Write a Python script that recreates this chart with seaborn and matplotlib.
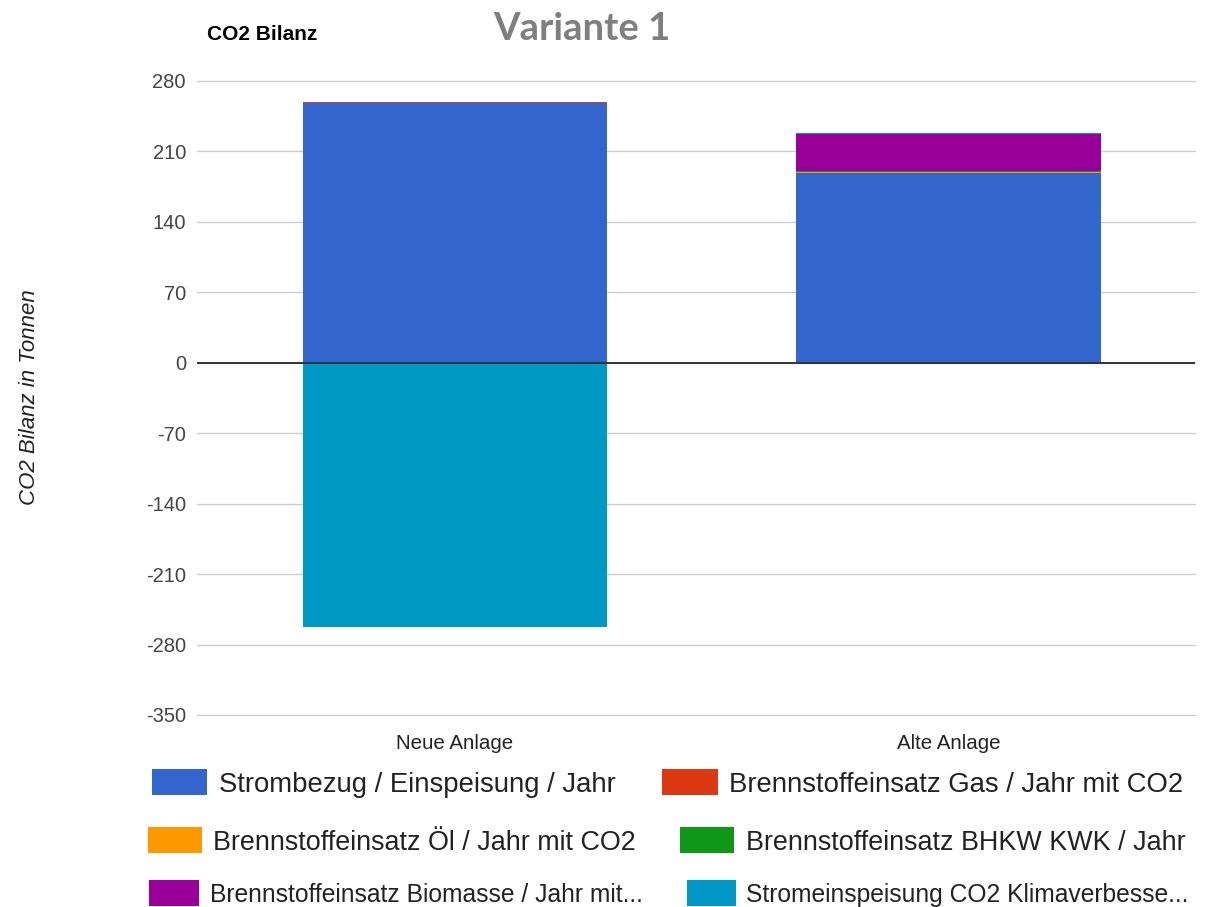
import numpy as np
import pandas as pd
import matplotlib
matplotlib.use("Agg")
import matplotlib.pyplot as plt
from matplotlib.patches import Rectangle
import seaborn as sns

# ---------------- data ----------------
categories = ["Neue Anlage", "Alte Anlage"]
series_names = [
    "Strombezug / Einspeisung / Jahr",
    "Brennstoffeinsatz Gas / Jahr mit CO2",
    "Brennstoffeinsatz Öl / Jahr mit CO2",
    "Brennstoffeinsatz BHKW KWK / Jahr",
    "Brennstoffeinsatz Biomasse / Jahr mit...",
    "Stromeinspeisung CO2 Klimaverbesse...",
]
strombezug = [258.5, 189.0]
gas = [1.0, 0.0]
oel = [0.0, 0.2]
bhkw = [0.0, 1.0]
biomasse = [0.0, 37.5]
stromeinspeisung = [-263.0, 0.6]
series_colors = ["#3366cc", "#dc3912", "#ff9900", "#109618", "#990099", "#0099c6"]
yticks = [-350, -280, -210, -140, -70, 0, 70, 140, 210, 280]

# ---------------- style ----------------
sns.set_theme(style="white")
plt.rcParams["font.family"] = ["Liberation Sans", "DejaVu Sans"]

W, H = 1205, 907
fig = plt.figure(figsize=(W / 100, H / 100), dpi=100)
ax = fig.add_axes([197 / W, 1 - 715 / H, (1195 - 197) / W, (715 - 81) / H])

layers = [strombezug, gas, oel, bhkw, biomasse, stromeinspeisung]
vals = np.array(layers, dtype=float)  # shape (layers, cats)
pos = np.where(vals > 0, vals, 0).cumsum(axis=0)
neg = np.where(vals < 0, vals, 0).cumsum(axis=0)

# draw cumulative stacks, topmost layer first so lower layers overwrite
for i in reversed(range(len(layers))):
    for cum in (pos, neg):
        df = pd.DataFrame({"cat": categories, "val": cum[i]})
        sns.barplot(data=df, x="cat", y="val", order=categories, color=series_colors[i],
                    saturation=1, width=0.617, linewidth=0, ax=ax, errorbar=None)

ax.set_xlim(-0.523, 1.5)
ax.set_ylim(-350, 280)
ax.set_yticks(yticks)
ax.set_yticklabels([str(t) for t in yticks])
ax.yaxis.grid(True, color="#cccccc", linewidth=1)
for gl in ax.get_ygridlines():
    gl.set_clip_on(False)
ax.set_axisbelow(True)
ax.axhline(0, color="#333333", linewidth=1.4, zorder=5)
for s in ax.spines.values():
    s.set_visible(False)
ax.tick_params(axis="y", length=0, pad=8, labelsize=14.5, labelcolor="#444444")
ax.tick_params(axis="x", length=0, pad=14, labelsize=14.8, labelcolor="#222222")
ax.set_xlabel("")
ax.set_ylabel("CO2 Bilanz in Tonnen", fontsize=16, style="italic", color="#222222", labelpad=0)
ax.yaxis.set_label_coords(-(197 - 30) / 998, (715 - 397) / 634)
ax.yaxis.label.set_va("center")

fig.text(207 / W, 1 - 35 / H, "CO2 Bilanz", fontsize=15, fontweight="bold",
         color="#000000", ha="left", va="center")
fig.text(582 / W, 1 - 29 / H, "Variante 1", fontsize=27.5, fontweight="bold",
         color="#7f7f7f", ha="center", va="center", family=["Lato", "DejaVu Sans"])

# ---------------- legend (manually laid out in pixel space) ----------------
# (swatch_x0, swatch_x1, swatch_y0, swatch_y1, text_x, text_x_end, text_center_y)
legend_layout = [
    (152, 207, 769, 795, 219, 618, 785),
    (662, 718, 769, 795, 729, 1185, 785),
    (148, 202, 827, 853, 213, 636, 843),
    (680, 734, 827, 853, 746, 1185, 843),
    (149, 199, 880, 906, 210, 645, 895),
    (687, 736, 880, 906, 746, 1190, 895),
]
legend_order = [0, 1, 2, 3, 4, 5]
fig.canvas.draw()
renderer = fig.canvas.get_renderer()
for k, idx in enumerate(legend_order):
    x0, x1, y0, y1, tx, tx_end, ty = legend_layout[k]
    fig.patches.append(Rectangle((x0 / W, 1 - y1 / H), (x1 - x0) / W, (y1 - y0) / H,
                                 transform=fig.transFigure, facecolor=series_colors[idx],
                                 edgecolor="none", figure=fig))
    t = fig.text(tx / W, 1 - ty / H, series_names[idx], fontsize=19, color="#222222",
                 ha="left", va="center")
    wpx = t.get_window_extent(renderer).width
    t.set_fontsize(19 * (tx_end - tx) / wpx)

fig.savefig("out.png", dpi=100)
